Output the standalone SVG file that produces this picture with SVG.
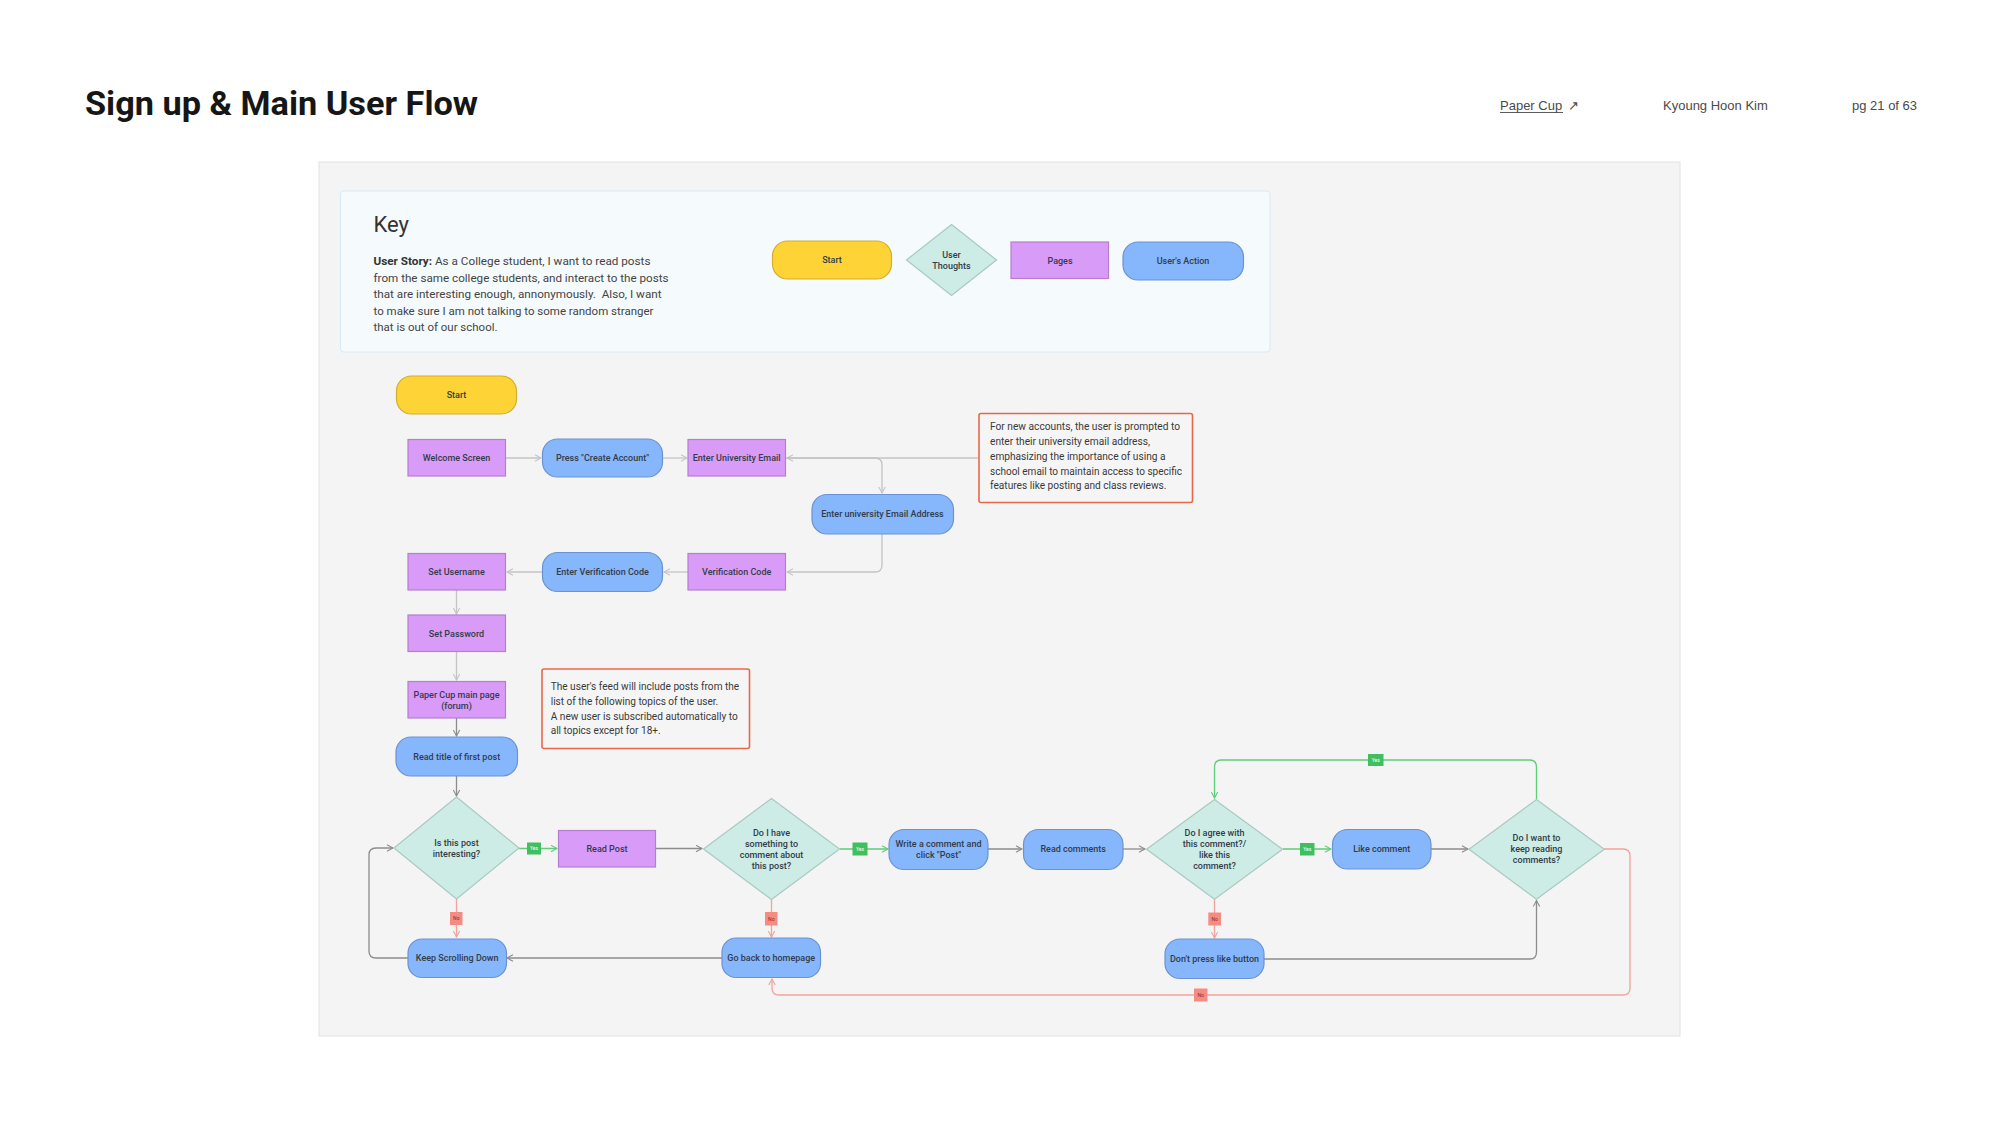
<svg xmlns="http://www.w3.org/2000/svg" width="2000" height="1125" viewBox="0 0 2000 1125">
<defs>
<style>
.t{font-family:Roboto,"Liberation Sans",sans-serif;font-size:9px;font-weight:500;fill:#333c4a;text-anchor:middle}
.n{font-family:Roboto,"Liberation Sans",sans-serif;font-size:10px;fill:#3a3a3a;white-space:pre}
.k{font-family:Roboto,"Liberation Sans",sans-serif;font-size:10.8px;fill:#444;white-space:pre}
.hd{font-family:"Liberation Sans",Arial,sans-serif;font-size:13px;fill:#4a4a4a}
.y{fill:#fdd335;stroke:#d2ae33;stroke-width:1.2}
.d{fill:#cdece5;stroke:#a9c9c1;stroke-width:1.2}
.p{fill:#d89bf8;stroke:#b47fcf;stroke-width:1.2}
.b{fill:#86b6fb;stroke:#6b93d3;stroke-width:1.2}
.note{fill:#f5f5f5;stroke:#e7684b;stroke-width:1.6}
.cl{fill:none;stroke:#c4c4c4;stroke-width:1.3}
.cg{fill:none;stroke:#8c8c8c;stroke-width:1.3}
.cy{fill:none;stroke:#5fcd79;stroke-width:1.3}
.cn{fill:none;stroke:#f2a39c;stroke-width:1.3}
.ly{fill:#3fbf5f}
.ln{fill:#f48c82}
.lt{font-family:Roboto,"Liberation Sans",sans-serif;font-size:5px;text-anchor:middle}
</style>
<marker id="al" viewBox="0 0 8 8" refX="7" refY="4" markerWidth="8" markerHeight="8" markerUnits="userSpaceOnUse" orient="auto"><path d="M1,0.8 L7,4 L1,7.2" fill="none" stroke="#c4c4c4" stroke-width="1.1"/></marker>
<marker id="ag" viewBox="0 0 8 8" refX="7" refY="4" markerWidth="8" markerHeight="8" markerUnits="userSpaceOnUse" orient="auto"><path d="M1,0.8 L7,4 L1,7.2" fill="none" stroke="#8c8c8c" stroke-width="1.1"/></marker>
<marker id="ay" viewBox="0 0 8 8" refX="7" refY="4" markerWidth="8" markerHeight="8" markerUnits="userSpaceOnUse" orient="auto"><path d="M1,0.8 L7,4 L1,7.2" fill="none" stroke="#5fcd79" stroke-width="1.1"/></marker>
<marker id="an" viewBox="0 0 8 8" refX="7" refY="4" markerWidth="8" markerHeight="8" markerUnits="userSpaceOnUse" orient="auto"><path d="M1,0.8 L7,4 L1,7.2" fill="none" stroke="#f2a39c" stroke-width="1.1"/></marker>
</defs>
<rect width="2000" height="1125" fill="#ffffff"/>

<g id="header">
<text x="85" y="115" font-family="Roboto,'Liberation Sans',sans-serif" font-size="34" font-weight="700" fill="#161616" textLength="393" lengthAdjust="spacingAndGlyphs">Sign up &amp; Main User Flow</text>
<text class="hd" x="1500" y="110">Paper Cup</text>
<line x1="1500" y1="112.5" x2="1563" y2="112.5" stroke="#4a4a4a" stroke-width="0.9"/>
<text class="hd" x="1568" y="110" font-family="'DejaVu Sans',sans-serif" font-size="11">↗</text>
<text class="hd" x="1663" y="110">Kyoung Hoon Kim</text>
<text class="hd" x="1852" y="110">pg 21 of 63</text>
</g>

<rect id="canvas" x="319" y="162" width="1361" height="874" fill="#f4f4f4" stroke="#e2e2e2" stroke-width="1"/>

<g id="key">
<rect x="340.5" y="191" width="929.5" height="161" rx="3" fill="#f5fafd" stroke="#d6e9f6" stroke-width="1"/>
<text x="373.5" y="232" font-family="Roboto,'Liberation Sans',sans-serif" font-size="22" fill="#333">Key</text>
<text class="k" x="373.5" y="264.5" textLength="277" lengthAdjust="spacingAndGlyphs"><tspan font-weight="700" fill="#333">User Story:</tspan> As a College student, I want to read posts</text>
<text class="k" x="373.5" y="281.5" textLength="295" lengthAdjust="spacingAndGlyphs">from the same college students, and interact to the posts</text>
<text class="k" x="373.5" y="298" textLength="288" lengthAdjust="spacingAndGlyphs">that are interesting enough, annonymously.  Also, I want</text>
<text class="k" x="373.5" y="314.5" textLength="280" lengthAdjust="spacingAndGlyphs">to make sure I am not talking to some random stranger</text>
<text class="k" x="373.5" y="331" textLength="124" lengthAdjust="spacingAndGlyphs">that is out of our school.</text>
<g id="key-start"><rect class="y" x="772.5" y="241" width="119" height="38" rx="15"/><text class="t" x="832" y="263">Start</text></g>
<g id="key-thoughts"><polygon class="d" points="951.5,224.5 996.5,260 951.5,295.5 906.5,260"/><text class="t" x="951.5" y="258">User</text><text class="t" x="951.5" y="269">Thoughts</text></g>
<g id="key-pages"><rect class="p" x="1011" y="242" width="97.5" height="36.5"/><text class="t" x="1060" y="263.5">Pages</text></g>
<g id="key-action"><rect class="b" x="1123" y="242" width="120.5" height="38" rx="15"/><text class="t" x="1183" y="264">User's Action</text></g>
</g>

<g id="connectors">
<path class="cl" d="M506,458 H541" marker-end="url(#al)"/>
<path class="cl" d="M663,458 H687" marker-end="url(#al)"/>
<path class="cl" d="M978,458 H787" marker-end="url(#al)"/>
<path class="cl" d="M786,458 H875 Q882,458 882,465 V493" marker-end="url(#al)"/>
<path class="cl" d="M882,534 V565 Q882,572 875,572 H787" marker-end="url(#al)"/>
<path class="cl" d="M688,572 H664" marker-end="url(#al)"/>
<path class="cl" d="M542,572 H507" marker-end="url(#al)"/>
<path class="cl" d="M456.5,590 V614" marker-end="url(#al)"/>
<path class="cl" d="M456.5,652 V680" marker-end="url(#al)"/>
<path class="cg" d="M456.5,718 V736" marker-end="url(#ag)"/>
<path class="cg" d="M456.5,776 V796" marker-end="url(#ag)"/>
<path class="cy" d="M519,848.5 H557" marker-end="url(#ay)"/>
<path class="cn" d="M456.5,899 V937" marker-end="url(#an)"/>
<path class="cg" d="M408,958 H376 Q369,958 369,951 V855 Q369,848 376,848 H393" marker-end="url(#ag)"/>
<path class="cg" d="M656,848.5 H702" marker-end="url(#ag)"/>
<path class="cy" d="M840,849 H888" marker-end="url(#ay)"/>
<path class="cn" d="M771.5,899 V937" marker-end="url(#an)"/>
<path class="cg" d="M722,958 H507" marker-end="url(#ag)"/>
<path class="cg" d="M988,849 H1022" marker-end="url(#ag)"/>
<path class="cg" d="M1123,849 H1145" marker-end="url(#ag)"/>
<path class="cy" d="M1283,849 H1331" marker-end="url(#ay)"/>
<path class="cn" d="M1214.5,899.5 V938" marker-end="url(#an)"/>
<path class="cg" d="M1431,849 H1468" marker-end="url(#ag)"/>
<path class="cg" d="M1264,959 H1530 Q1536.5,959 1536.5,952 V900.5" marker-end="url(#ag)"/>
<path class="cy" d="M1536.5,799 V767 Q1536.5,760 1529.5,760 H1221.5 Q1214.5,760 1214.5,767 V798" marker-end="url(#ay)"/>
<path class="cn" d="M1604,849 H1623 Q1630,849 1630,856 V988 Q1630,995 1623,995 H779 Q772,995 772,988 V979" marker-end="url(#an)"/>
<rect class="ly" x="527" y="842.5" width="14" height="12"/><text class="lt" x="534" y="850.3" fill="#fff">Yes</text>
<rect class="ly" x="852.5" y="842.5" width="15" height="13"/><text class="lt" x="860" y="850.8" fill="#fff">Yes</text>
<rect class="ly" x="1300" y="843" width="14.5" height="12.5"/><text class="lt" x="1307.3" y="851" fill="#fff">Yes</text>
<rect class="ly" x="1368" y="754" width="15.5" height="12"/><text class="lt" x="1375.7" y="761.8" fill="#fff">Yes</text>
<rect class="ln" x="450" y="912" width="12.5" height="13"/><text class="lt" x="456.3" y="920.3" fill="#8e2a22">No</text>
<rect class="ln" x="765" y="912" width="12.5" height="13.5"/><text class="lt" x="771.3" y="920.5" fill="#8e2a22">No</text>
<rect class="ln" x="1208.3" y="912.5" width="12.7" height="13"/><text class="lt" x="1214.6" y="920.8" fill="#8e2a22">No</text>
<rect class="ln" x="1194" y="988.5" width="13.5" height="13"/><text class="lt" x="1200.7" y="996.8" fill="#8e2a22">No</text>
</g>

<g id="start"><rect class="y" x="396.5" y="376" width="120" height="38" rx="15"/><text class="t" x="456.5" y="398">Start</text></g>
<g id="welcome"><rect class="p" x="408" y="439.5" width="97.5" height="36.5"/><text class="t" x="456.5" y="461">Welcome Screen</text></g>
<g id="create-account"><rect class="b" x="542.5" y="439" width="120" height="38" rx="15"/><text class="t" x="602.5" y="461">Press "Create Account"</text></g>
<g id="uni-email"><rect class="p" x="688" y="439.5" width="97.5" height="36.5"/><text class="t" x="736.7" y="461">Enter University Email</text></g>
<g id="note-email">
<rect class="note" x="979" y="413.5" width="213.5" height="89" rx="2"/>
<text class="n" x="990" y="430" textLength="190" lengthAdjust="spacingAndGlyphs">For new accounts, the user is prompted to</text>
<text class="n" x="990" y="445" textLength="160" lengthAdjust="spacingAndGlyphs">enter their university email address,</text>
<text class="n" x="990" y="459.5" textLength="175.5" lengthAdjust="spacingAndGlyphs">emphasizing the importance of using a</text>
<text class="n" x="990" y="474.5" textLength="192" lengthAdjust="spacingAndGlyphs">school email to maintain access to specific</text>
<text class="n" x="990" y="489" textLength="176.5" lengthAdjust="spacingAndGlyphs">features like posting and class reviews.</text>
</g>
<g id="uni-email-address"><rect class="b" x="812" y="494.5" width="141.5" height="39.5" rx="15"/><text class="t" x="882.5" y="517">Enter university Email Address</text></g>
<g id="verif-code"><rect class="p" x="688" y="553.5" width="97.5" height="36.5"/><text class="t" x="736.7" y="575">Verification Code</text></g>
<g id="enter-verif"><rect class="b" x="542.5" y="552.5" width="120" height="39" rx="15"/><text class="t" x="602.5" y="575">Enter Verification Code</text></g>
<g id="set-username"><rect class="p" x="408" y="553.5" width="97.5" height="36.5"/><text class="t" x="456.5" y="575">Set Username</text></g>
<g id="set-password"><rect class="p" x="408" y="615" width="97.5" height="36.5"/><text class="t" x="456.5" y="636.5">Set Password</text></g>
<g id="main-page"><rect class="p" x="408" y="681.5" width="97.5" height="36.5"/><text class="t" x="456.5" y="698">Paper Cup main page</text><text class="t" x="456.5" y="709">(forum)</text></g>
<g id="note-feed">
<rect class="note" x="542" y="669" width="207.5" height="79.5" rx="2"/>
<text class="n" x="550.7" y="690" textLength="188.5" lengthAdjust="spacingAndGlyphs">The user's feed will include posts from the</text>
<text class="n" x="550.7" y="705" textLength="167.5" lengthAdjust="spacingAndGlyphs">list of the following topics of the user.</text>
<text class="n" x="550.7" y="719.5" textLength="187" lengthAdjust="spacingAndGlyphs">A new user is subscribed automatically to</text>
<text class="n" x="550.7" y="734" textLength="110" lengthAdjust="spacingAndGlyphs">all topics except for 18+.</text>
</g>
<g id="read-title"><rect class="b" x="396" y="737" width="121.5" height="39" rx="15"/><text class="t" x="456.7" y="759.5">Read title of first post</text></g>
<g id="q-interesting"><polygon class="d" points="456.5,797 519,848 456.5,899 394,848"/><text class="t" x="456.5" y="846">Is this post</text><text class="t" x="456.5" y="857">interesting?</text></g>
<g id="read-post"><rect class="p" x="558.5" y="830.5" width="97" height="36.5"/><text class="t" x="607" y="852">Read Post</text></g>
<g id="keep-scrolling"><rect class="b" x="408" y="939" width="98.5" height="38.5" rx="14"/><text class="t" x="457.2" y="961">Keep Scrolling Down</text></g>
<g id="q-comment"><polygon class="d" points="771.5,798.5 839.5,849 771.5,899.5 703.5,849"/><text class="t" x="771.5" y="835.7">Do I have</text><text class="t" x="771.5" y="846.7">something to</text><text class="t" x="771.5" y="858">comment about</text><text class="t" x="771.5" y="869">this post?</text></g>
<g id="go-back"><rect class="b" x="722" y="938" width="98.5" height="39.5" rx="14"/><text class="t" x="771.2" y="960.7">Go back to homepage</text></g>
<g id="write-comment"><rect class="b" x="889" y="829.5" width="99" height="40" rx="15"/><text class="t" x="938.5" y="846.7">Write a comment and</text><text class="t" x="938.5" y="858">click "Post"</text></g>
<g id="read-comments"><rect class="b" x="1023.5" y="829.5" width="99.5" height="40" rx="15"/><text class="t" x="1073.2" y="852.3">Read comments</text></g>
<g id="q-agree"><polygon class="d" points="1214.5,799.5 1282.5,849.3 1214.5,899.3 1146.5,849.3"/><text class="t" x="1214.5" y="835.7">Do I agree with</text><text class="t" x="1214.5" y="846.7">this comment?/</text><text class="t" x="1214.5" y="857.7">like this</text><text class="t" x="1214.5" y="869">comment?</text></g>
<g id="like-comment"><rect class="b" x="1332.5" y="829.5" width="98.5" height="39.5" rx="15"/><text class="t" x="1381.7" y="852.3">Like comment</text></g>
<g id="dont-like"><rect class="b" x="1165" y="939" width="99" height="39.5" rx="15"/><text class="t" x="1214.5" y="962">Don't press like button</text></g>
<g id="q-keep-reading"><polygon class="d" points="1536.5,799.5 1604.3,849.3 1536.5,899.3 1469,849.3"/><text class="t" x="1536.5" y="841.3">Do I want to</text><text class="t" x="1536.5" y="852.3">keep reading</text><text class="t" x="1536.5" y="863.3">comments?</text></g>
</svg>
